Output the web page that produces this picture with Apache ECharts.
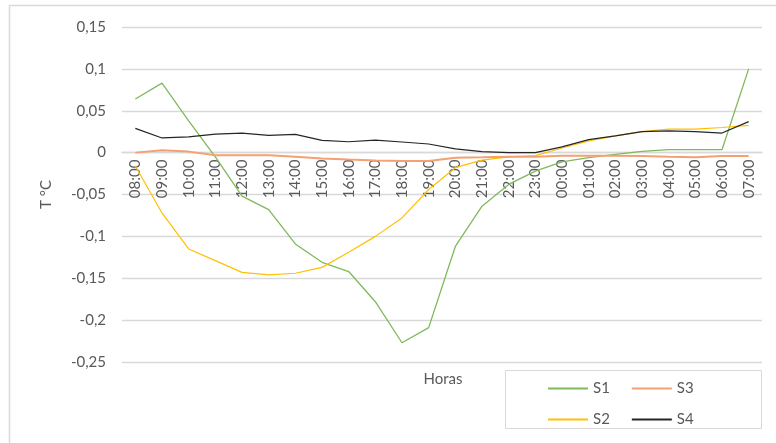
<!DOCTYPE html>
<html>
<head>
<meta charset="utf-8">
<script src="https://cdn.jsdelivr.net/npm/echarts@6/dist/echarts.min.js"></script>
<style>
  html, body { margin: 0; padding: 0; background: #fff; }
  #chart { width: 776px; height: 443px; }
</style>
</head>
<body>
<div id="chart"></div>
<script>
// horas del ensayo
const horas = ['08:00', '09:00', '10:00', '11:00', '12:00', '13:00', '14:00', '15:00',
  '16:00', '17:00', '18:00', '19:00', '20:00', '21:00', '22:00', '23:00',
  '00:00', '01:00', '02:00', '03:00', '04:00', '05:00', '06:00', '07:00']

const s1 = [0.064, 0.083, 0.038, -0.005, -0.052, -0.068, -0.109, -0.131,
  -0.142, -0.178, -0.227, -0.209, -0.112, -0.064, -0.038, -0.022,
  -0.011, -0.006, -0.002, 0.0015, 0.0035, 0.0035, 0.0035, 0.1]
const s2 = [-0.016, -0.072, -0.115, -0.129, -0.143, -0.146, -0.144, -0.137,
  -0.119, -0.1, -0.078, -0.044, -0.018, -0.009, -0.005, -0.0035,
  0.0055, 0.014, 0.02, 0.025, 0.028, 0.028, 0.03, 0.0325]
const s3 = [0, 0.0028, 0.0012, -0.003, -0.003, -0.003, -0.0048, -0.007,
  -0.0083, -0.0095, -0.01, -0.01, -0.006, -0.0056, -0.005, -0.005,
  -0.0036, -0.0036, -0.0036, -0.004, -0.005, -0.0056, -0.004, -0.004]
const s4 = [0.029, 0.0175, 0.0187, 0.022, 0.0234, 0.0206, 0.0218, 0.0147,
  0.013, 0.015, 0.0127, 0.0103, 0.0044, 0.0012, 0, 0,
  0.0068, 0.0155, 0.02, 0.025, 0.026, 0.025, 0.0234, 0.037]

const yMin = -0.25
const yMax = 0.15
const yStep = 0.05

const font = 'Lato, "Liberation Sans", sans-serif'
const textGrey = '#595959'
const lineGrey = '#d9d9d9'

const gridTop = 27
const gridBottom = 81
const chartH = 443
// eje de categorias sobre la linea del cero
const zeroOffset = (chartH - gridTop - gridBottom) * (0 - yMin) / (yMax - yMin)

const chart = echarts.init(document.getElementById('chart'), null, {renderer: 'canvas'})

const mkSeries = (name, data, color, width) => ({
  name,
  type: 'line',
  data,
  symbol: 'none',
  lineStyle: {color, width},
  itemStyle: {color},
  emphasis: {disabled: true}
})

const legendBase = {
  icon: 'rect',
  itemWidth: 40,
  itemHeight: 2,
  itemGap: 22,
  left: 543,
  textStyle: {color: textGrey, fontFamily: font, fontSize: 15, width: 60}
}

chart.setOption({
  animation: false,
  grid: {left: 122, right: 14, top: gridTop, bottom: gridBottom},
  xAxis: {
    type: 'category',
    data: horas,
    boundaryGap: true,
    position: 'bottom',
    offset: -zeroOffset,
    axisLine: {onZero: false, lineStyle: {color: lineGrey, width: 1.3}},
    axisTick: {show: false},
    axisLabel: {
      rotate: 90,
      interval: 0,
      margin: 7,
      color: textGrey,
      fontFamily: font,
      fontSize: 15
    }
  },
  yAxis: {
    type: 'value',
    min: yMin,
    max: yMax,
    interval: yStep,
    name: 'T °C',
    nameLocation: 'middle',
    nameGap: 68,
    nameTextStyle: {color: textGrey, fontFamily: font, fontSize: 15},
    axisLine: {show: false},
    axisTick: {show: false},
    splitLine: {lineStyle: {color: lineGrey, width: 1.3}},
    axisLabel: {
      color: textGrey,
      fontFamily: font,
      fontSize: 15,
      margin: 16,
      formatter: v => String(+v.toFixed(2)).replace('.', ',')
    }
  },
  legend: [
    Object.assign({}, legendBase, {top: 376, data: ['S1', 'S3']}),
    Object.assign({}, legendBase, {top: 407, data: ['S2', 'S4']})
  ],
  graphic: [
    {
      type: 'rect', silent: true,
      shape: {x: 9.5, y: 5.5, width: 900, height: 600},
      style: {fill: 'none', stroke: lineGrey, lineWidth: 1.5}
    },
    {
      type: 'rect', silent: true,
      shape: {x: 505.5, y: 370.5, width: 256, height: 58},
      style: {fill: 'none', stroke: lineGrey, lineWidth: 1}
    },
    {
      type: 'text', silent: true,
      x: 443, y: 379,
      style: {
        text: 'Horas', fill: textGrey, font: '15px ' + font,
        align: 'center', verticalAlign: 'middle'
      }
    }
  ],
  series: [
    mkSeries('S1', s1, '#7fb95b', 1.3),
    mkSeries('S2', s2, '#ffc000', 1.2),
    mkSeries('S3', s3, '#f3a172', 2),
    mkSeries('S4', s4, '#262626', 1.2)
  ]
})
</script>
</body>
</html>
